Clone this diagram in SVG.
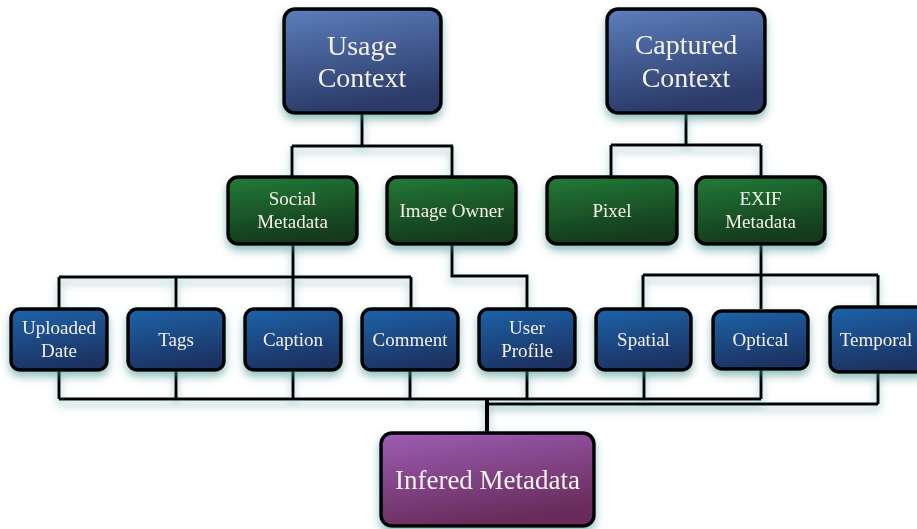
<svg xmlns="http://www.w3.org/2000/svg" width="917" height="529" viewBox="0 0 917 529">
<defs>
<linearGradient id="gTop" x1="0" y1="0" x2="0.25" y2="1"><stop offset="0" stop-color="#5c7ebd"/><stop offset="1" stop-color="#2b3a68"/></linearGradient>
<linearGradient id="gGreen" x1="0" y1="0" x2="0.25" y2="1"><stop offset="0" stop-color="#237b38"/><stop offset="1" stop-color="#143a1d"/></linearGradient>
<linearGradient id="gBlue" x1="0" y1="0" x2="0.25" y2="1"><stop offset="0" stop-color="#1d64aa"/><stop offset="1" stop-color="#1a3363"/></linearGradient>
<linearGradient id="gPurple" x1="0" y1="0" x2="0.35" y2="1"><stop offset="0" stop-color="#9c5eb5"/><stop offset="1" stop-color="#6a2c5c"/></linearGradient>
<filter id="sh" x="-20%" y="-20%" width="140%" height="160%">
<feGaussianBlur in="SourceAlpha" stdDeviation="4"/>
<feOffset dy="5" result="b"/>
<feFlood flood-color="#3d8a88" flood-opacity="0.55"/>
<feComposite in2="b" operator="in"/>
<feMerge><feMergeNode/><feMergeNode in="SourceGraphic"/></feMerge>
</filter>
</defs>
<style>
.box{stroke:#000;stroke-width:3.5}
.top{fill:url(#gTop)}
.green{fill:url(#gGreen)}
.blue{fill:url(#gBlue)}
.purple{fill:url(#gPurple)}
.conn path{fill:none;stroke:#000;stroke-width:3}
text{font-family:"Liberation Serif","DejaVu Serif",serif;fill:#f4f0ea;text-anchor:middle}
.t1{font-size:28px}
.t2{font-size:19px}
.t3{font-size:27px}
</style>
<g id="connectors" class="conn" filter="url(#sh)">
<path d="M362,113V146M292,146H453M292,146V176M452,146V176"/>
<path d="M686,113V145M611,145H761M611,145V177M761,145V177"/>
<path d="M293,244V277M59,277H411M59,277V309M176,277V309M293,277V309M411,277V309"/>
<path d="M452,244V276H527V309"/>
<path d="M761,244V275M643,275H878M643,275V309M761,275V309M878,275V307"/>
<path d="M59,370V399M176,370V399M293,370V399M410,370V399M527,370V399M644,370V399M761,369V399M59,399H761"/>
<path d="M878,372V404M487,404H878"/>
<path d="M487,399V433" style="stroke-width:4"/>
</g>
<g id="usage-context" filter="url(#sh)"><rect class="box top" x="284" y="9" width="157" height="104" rx="11"/><text class="t1" x="362" y="55">Usage</text><text class="t1" x="362" y="87">Context</text></g>
<g id="captured-context" filter="url(#sh)"><rect class="box top" x="607" y="9" width="158" height="104" rx="11"/><text class="t1" x="686" y="54">Captured</text><text class="t1" x="686" y="87">Context</text></g>
<g id="social-metadata" filter="url(#sh)"><rect class="box green" x="228" y="177" width="129" height="67" rx="10"/><text class="t2" x="292.5" y="205">Social</text><text class="t2" x="292.5" y="228">Metadata</text></g>
<g id="image-owner" filter="url(#sh)"><rect class="box green" x="387" y="177" width="129" height="67" rx="10"/><text class="t2" x="451.5" y="217">Image Owner</text></g>
<g id="pixel" filter="url(#sh)"><rect class="box green" x="547" y="177" width="130" height="67" rx="10"/><text class="t2" x="612" y="217">Pixel</text></g>
<g id="exif-metadata" filter="url(#sh)"><rect class="box green" x="696" y="177" width="129" height="67" rx="10"/><text class="t2" x="760.5" y="205">EXIF</text><text class="t2" x="760.5" y="228">Metadata</text></g>
<g id="uploaded-date" filter="url(#sh)"><rect class="box blue" x="11" y="309" width="96" height="61" rx="9"/><text class="t2" x="59" y="334">Uploaded</text><text class="t2" x="59" y="357">Date</text></g>
<g id="tags" filter="url(#sh)"><rect class="box blue" x="128" y="309" width="96" height="61" rx="9"/><text class="t2" x="176" y="346">Tags</text></g>
<g id="caption" filter="url(#sh)"><rect class="box blue" x="245" y="309" width="96" height="61" rx="9"/><text class="t2" x="293" y="346">Caption</text></g>
<g id="comment" filter="url(#sh)"><rect class="box blue" x="362" y="309" width="96" height="61" rx="9"/><text class="t2" x="410" y="346">Comment</text></g>
<g id="user-profile" filter="url(#sh)"><rect class="box blue" x="479" y="309" width="96" height="61" rx="9"/><text class="t2" x="527" y="334">User</text><text class="t2" x="527" y="357">Profile</text></g>
<g id="spatial" filter="url(#sh)"><rect class="box blue" x="596" y="309" width="95" height="61" rx="9"/><text class="t2" x="643.5" y="346">Spatial</text></g>
<g id="optical" filter="url(#sh)"><rect class="box blue" x="713" y="311" width="95" height="58" rx="9"/><text class="t2" x="760.5" y="346">Optical</text></g>
<g id="temporal" filter="url(#sh)"><rect class="box blue" x="830" y="307" width="97" height="65" rx="9"/><text class="t2" x="876" y="346">Temporal</text></g>
<g id="infered-metadata" filter="url(#sh)"><rect class="box purple" x="381" y="433" width="213" height="93" rx="11"/><text class="t3" x="487.5" y="489">Infered Metadata</text></g>
</svg>
